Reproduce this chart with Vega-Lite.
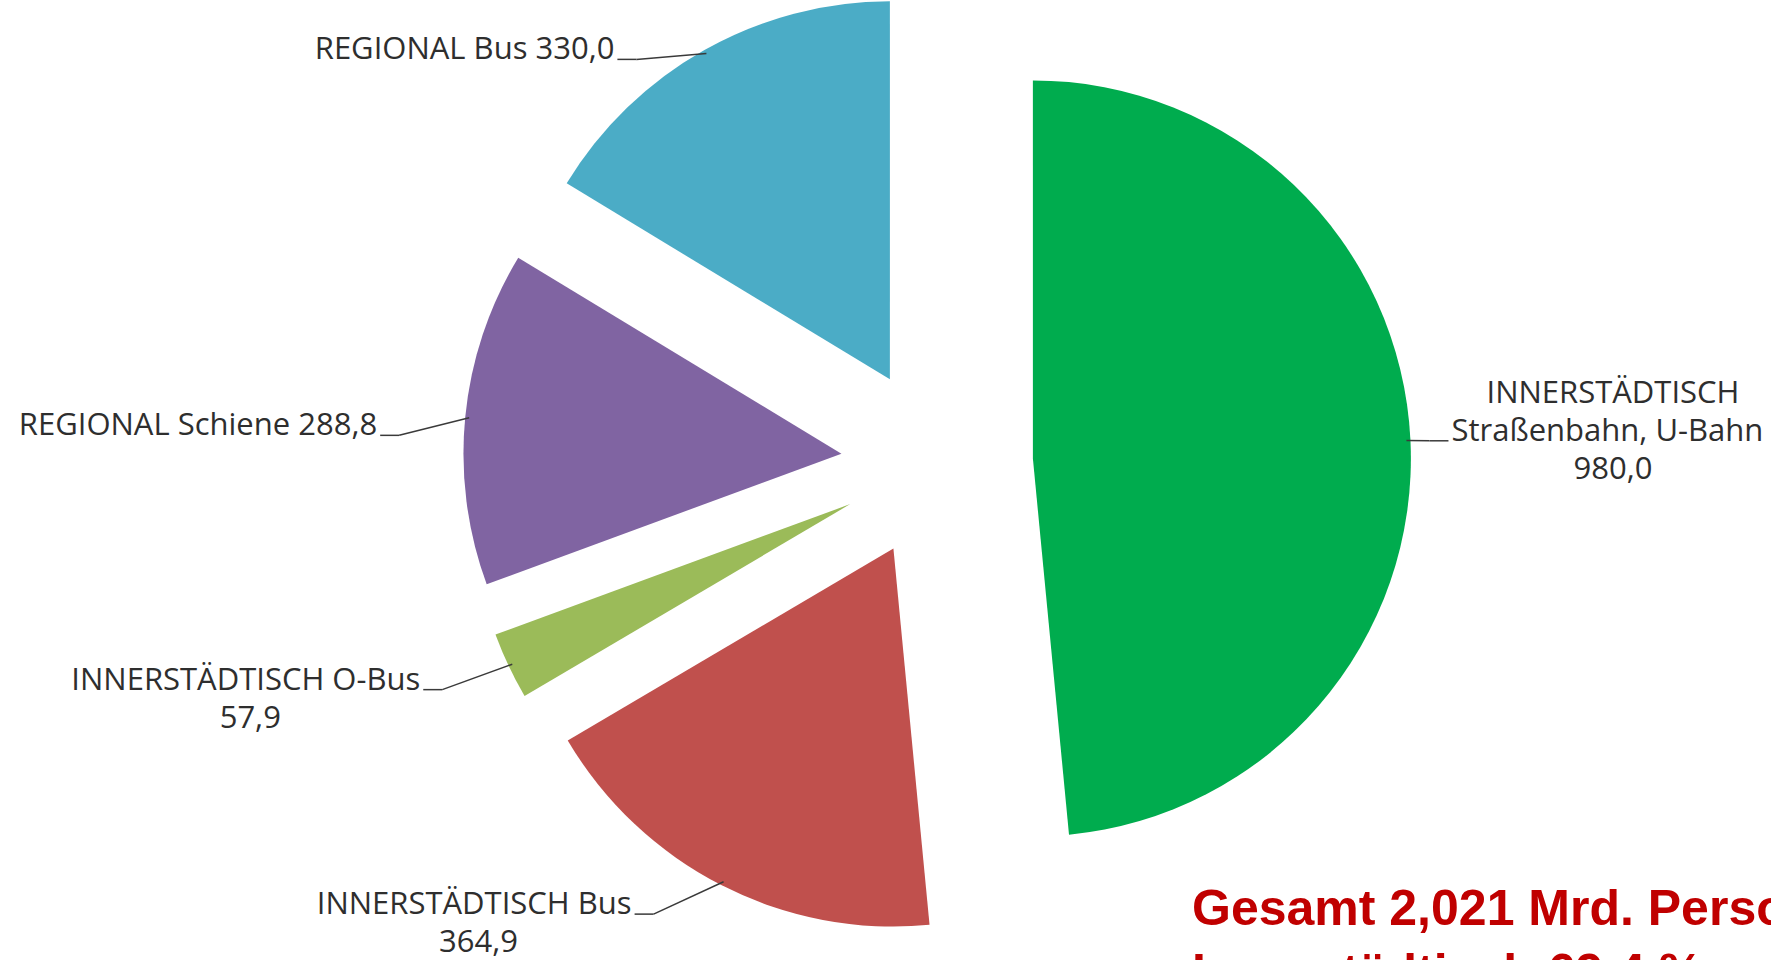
{
  "$schema": "https://vega.github.io/schema/vega-lite/v6.json",
  "width": 1771,
  "height": 960,
  "padding": 0,
  "autosize": {"type": "none"},
  "background": "white",
  "config": {"view": {"stroke": null}, "font": "Open Sans"},
  "title": {
    "text": ["Gesamt 2,021 Mrd. Personenfahrten", "Innerstädtisch 69,4 %"],
    "orient": "bottom",
    "anchor": "start",
    "frame": "group",
    "dx": 1192,
    "offset": -75,
    "font": "Liberation Sans",
    "fontSize": 50,
    "fontWeight": "bold",
    "color": "#C00000",
    "lineHeight": 64,
    "align": "left",
    "baseline": "top"
  },
  "data": {
    "values": [
      {"kategorie": "INNERSTÄDTISCH\nStraßenbahn, U-Bahn", "wert": 980.0},
      {"kategorie": "INNERSTÄDTISCH Bus", "wert": 364.9},
      {"kategorie": "INNERSTÄDTISCH O-Bus", "wert": 57.9},
      {"kategorie": "REGIONAL Schiene", "wert": 288.8},
      {"kategorie": "REGIONAL Bus", "wert": 330.0}
    ]
  },
  "transform": [
    {"window": [{"op": "row_number", "as": "nr"}]},
    {"joinaggregate": [{"op": "sum", "field": "wert", "as": "gesamt"}]},
    {"stack": "wert", "groupby": [], "sort": [{"field": "nr", "order": "ascending"}], "as": ["w0", "w1"]},
    {"calculate": "PI * (datum.w0 + datum.w1) / datum.gesamt", "as": "mitte"},
    {"calculate": "sin(datum.mitte)", "as": "rx"},
    {"calculate": "-cos(datum.mitte)", "as": "ry"},
    {"calculate": "datum.rx < 0 ? -1 : 1", "as": "seite"},
    {"calculate": "96 * datum.rx", "as": "mx"},
    {"calculate": "96 * datum.ry", "as": "my"},
    {"calculate": "470 * datum.rx", "as": "px"},
    {"calculate": "470 * datum.ry", "as": "py"},
    {"calculate": "datum.px + (datum.seite < 0 ? 92 : 45) * datum.seite", "as": "lx"},
    {"calculate": "datum.py + (datum.seite < 0 ? 19 : 1) + 15 * datum.ry", "as": "ly"},
    {"calculate": "datum.lx - 3 * datum.seite", "as": "hx1"},
    {"calculate": "datum.lx - 22 * datum.seite", "as": "hx2"},
    {"calculate": "datum.kategorie + (length(datum.kategorie) > 16 ? '\\n' : ' ') + replace(format(datum.wert, '.1f'), '.', ',')", "as": "beschriftung"}
  ],
  "encoding": {
    "x": {"field": "mx", "type": "quantitative", "axis": null, "scale": {"domain": [-937, 834], "nice": false, "zero": false}},
    "y": {"field": "my", "type": "quantitative", "axis": null, "scale": {"domain": [-463, 497], "reverse": true, "nice": false, "zero": false}}
  },
  "layer": [
    {
      "mark": {"type": "arc", "radius": 378, "stroke": null},
      "encoding": {
        "theta": {"field": "w1", "type": "quantitative", "scale": {"zero": true}},
        "theta2": {"field": "w0"},
        "color": {
          "field": "kategorie",
          "type": "nominal",
          "legend": null,
          "scale": {
            "domain": ["INNERSTÄDTISCH\nStraßenbahn, U-Bahn", "INNERSTÄDTISCH Bus", "INNERSTÄDTISCH O-Bus", "REGIONAL Schiene", "REGIONAL Bus"],
            "range": ["#00AC4E", "#C0504D", "#9BBB59", "#8064A2", "#4BACC6"]
          }
        }
      }
    },
    {
      "mark": {"type": "rule", "color": "#3a3a3a", "strokeWidth": 1.5},
      "encoding": {
        "x": {"field": "hx2", "type": "quantitative"},
        "y": {"field": "ly", "type": "quantitative"},
        "x2": {"field": "px"},
        "y2": {"field": "py"}
      }
    },
    {
      "mark": {"type": "rule", "color": "#3a3a3a", "strokeWidth": 1.5},
      "encoding": {
        "x": {"field": "hx1", "type": "quantitative"},
        "y": {"field": "ly", "type": "quantitative"},
        "x2": {"field": "hx2"},
        "y2": {"field": "ly"}
      }
    },
    {
      "transform": [
        {"calculate": "split(datum.beschriftung, '\\n')", "as": "zeilen"},
        {"calculate": "floor((length(datum.zeilen) - 1) / 2)", "as": "k0"},
        {"calculate": "length(datum.zeilen[datum.k0]) * 17", "as": "breite"},
        {"flatten": ["zeilen"], "as": ["zeile"]},
        {"window": [{"op": "row_number", "as": "zi"}], "groupby": ["nr"]},
        {"calculate": "datum.zi - 1 == datum.k0", "as": "angebunden"},
        {"calculate": "datum.ly + (datum.zi - 1 - datum.k0) * 38", "as": "zy"},
        {"calculate": "datum.angebunden ? datum.lx : datum.lx + datum.seite * datum.breite / 2", "as": "zx"}
      ],
      "encoding": {
        "x": {"field": "zx", "type": "quantitative"},
        "y": {"field": "zy", "type": "quantitative"},
        "text": {"field": "zeile"}
      },
      "layer": [
        {
          "transform": [{"filter": "datum.angebunden && datum.seite < 0"}],
          "mark": {"type": "text", "align": "right", "baseline": "alphabetic", "fontSize": 31, "color": "#2e2e2e"}
        },
        {
          "transform": [{"filter": "datum.angebunden && datum.seite > 0"}],
          "mark": {"type": "text", "align": "left", "baseline": "alphabetic", "fontSize": 31, "color": "#2e2e2e"}
        },
        {
          "transform": [{"filter": "!datum.angebunden"}],
          "mark": {"type": "text", "align": "center", "baseline": "alphabetic", "fontSize": 31, "color": "#2e2e2e"}
        }
      ]
    }
  ]
}
